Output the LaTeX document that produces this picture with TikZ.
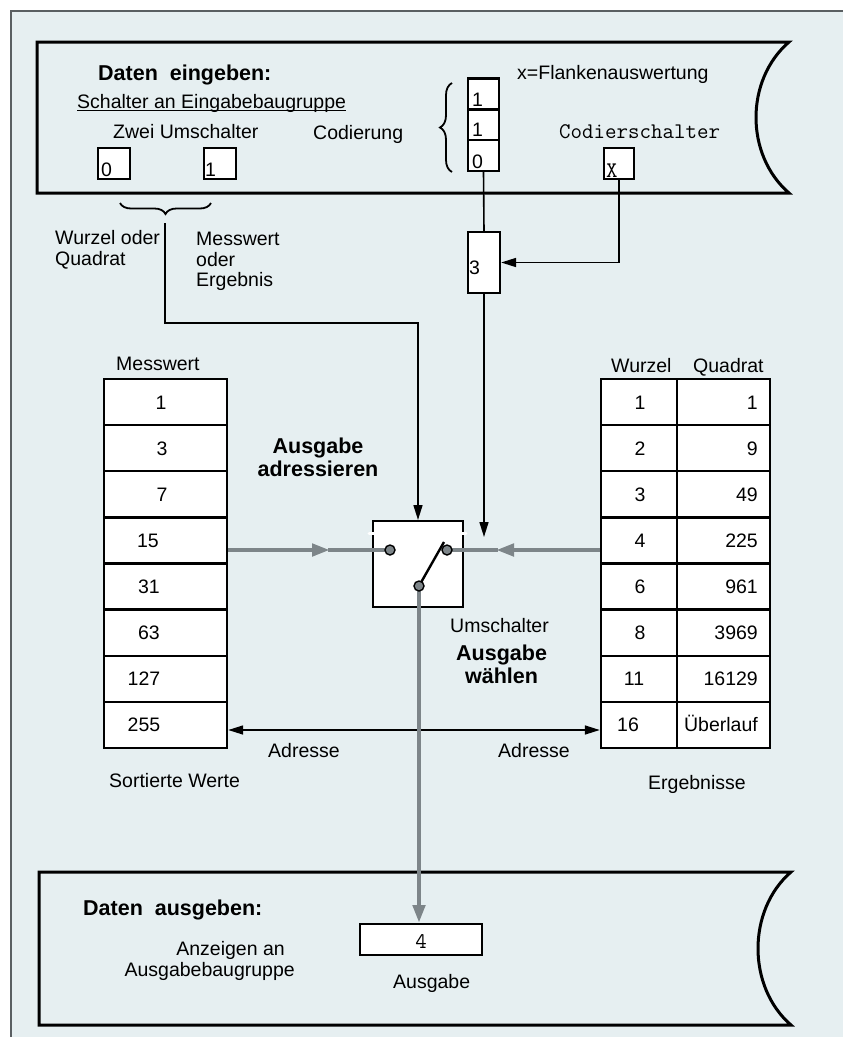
\documentclass[tikz,border=0pt]{standalone}
\usepackage{fontspec}
\setmainfont{Liberation Sans}
\usetikzlibrary{arrows.meta,decorations.pathreplacing}
\definecolor{bgc}{RGB}{230,239,241}
\definecolor{gc}{RGB}{125,133,137}
\definecolor{framec}{RGB}{90,95,98}
\newcommand\fn{\fontsize{19.5}{23}\selectfont}
\newcommand\fbd{\fontsize{21.5}{25}\selectfont\bfseries}
\newcommand\fm{\fontsize{22.3}{26}\selectfont\ttfamily}
\begin{document}
\begin{tikzpicture}[x=1pt,y=-1pt,
  txt/.style={inner sep=0pt, font=\fn, anchor=base west},
  btxt/.style={inner sep=0pt, font=\fbd, anchor=base west},
  mtxt/.style={inner sep=0pt, font=\fm, anchor=base west},
  bx/.style={draw=black, line width=2.2pt, fill=white, inner sep=0pt},
  cellbox/.style={draw=black, line width=2.4pt, fill=white, inner sep=0pt, minimum height=46.1pt},
  arr/.style={draw=black, line width=1.6pt, -{Triangle[length=15pt,width=9pt]}},
  cline/.style={draw=black, line width=1.6pt},
  gline/.style={draw=gc, line width=4.5pt},
  garr/.style={draw=gc, line width=4.5pt, -{Triangle[length=18pt,width=12pt]}},
  contact/.style={circle, draw=black, line width=1.4pt, fill=gc, minimum size=10pt, inner sep=0pt},
  bigbox/.style={draw=black, line width=3pt, line join=miter},
  brc/.style={draw=black, line width=1.8pt, decorate}
]
\useasboundingbox (0,0) rectangle (843,1037);
\fill[bgc] (11,11) rectangle (843,1037);
\draw[framec, line width=1.5pt] (11,1037) -- (11,11) -- (843,11);

% ---------- top box ----------
\draw[bigbox] (37,42) -- (789,42) .. controls (745,80) and (745,155) .. (789,193) -- (37,193) -- cycle;
\node[btxt] (tDaten) at (98,80) {Daten\ \ eingeben:};
\node[txt] (tSchalter) at (77,108) {Schalter an Eingabebaugruppe};
\draw[black, line width=1pt] ([yshift=-2.5pt]tSchalter.base west) -- ([yshift=-2.5pt]tSchalter.base east);
\node[txt] (tFlanke) at (517,79) {x=Flankenauswertung};
\node[txt] (tZwei) at (113,138) {Zwei Umschalter};
\node[txt] (tCod) at (313,139) {Codierung};
\node[mtxt] (tCodS) at (559,138) {Codierschalter};

\node[bx, minimum width=32pt, minimum height=31pt] (b0) at (114,163.5) {};
\node[txt] at (101,176) {0};
\node[bx, minimum width=32pt, minimum height=31pt] (b1) at (220,163.5) {};
\node[txt] at (205,176) {1};

\node[bx, minimum width=31pt, minimum height=31pt] (s1) at (483.5,94) {};
\node[bx, minimum width=31pt, minimum height=30pt] (s2) at (483.5,125) {};
\node[bx, minimum width=31pt, minimum height=31pt] (s3) at (483.5,155.5) {};
\node[txt] at (472,106) {1};
\node[txt] at (472,136) {1};
\node[txt] at (472,168) {0};

\node[bx, minimum width=30pt, minimum height=31pt] (xb) at (619,163.5) {};
\node[mtxt] at (606,177) {X};

\draw[brc, decoration={brace, amplitude=12pt}] (452,172) -- (452,83);
\draw[brc, decoration={brace, amplitude=11pt}] (211,203) -- (120,203);

% ---------- labels below top box ----------
\node[txt] at (55,244) {Wurzel oder};
\node[txt] at (55,265) {Quadrat};
\node[txt] at (196,245) {Messwert};
\node[txt] at (196,266) {oder};
\node[txt] at (196,286) {Ergebnis};

% ---------- box 3 ----------
\node[bx, minimum width=32pt, minimum height=61pt] (c3) at (484,262.5) {};
\node[txt] at (469,274) {3};

% ---------- switch ----------
\node[bx, line width=2pt, minimum width=90pt, minimum height=86pt] (sw) at (418,564) {};
\draw[white, line width=3pt, line cap=round] (369,533) -- (376,533);
\draw[white, line width=3pt, line cap=round] (460,533) -- (466,533);

\coordinate (bt) at (165,223);
\draw[arr] (bt) -- (165,323) -| (sw.north);
\draw[cline] (s3.south) -- (c3.north);
\draw[arr] (xb.south) |- (c3.east);
\coordinate (tipR) at (484,537);
\draw[arr] (c3.south) -- (tipR);

% ---------- tables ----------
\node[txt] at (116,370) {Messwert};
\node[txt] at (611,372) {Wurzel};
\node[txt] at (693,372) {Quadrat};
\foreach \v/\cx [count=\i] in {1/161,3/162,7/162,15/148,31/149,63/149,127/144,255/144}{
  \node[cellbox, minimum width=123pt] (L\i) at (165.5,{379+46.125*(\i-0.5)}) {};
  \node[inner sep=0pt, font=\fn, anchor=base] at (\cx,{379+46.125*(\i-0.5)+7}) {\v};
}
\foreach \w/\wx/\q [count=\i] in {1/640/1,2/640/9,3/640/49,4/640/225,6/640/961,8/640/3969,11/634/16129,16/628/{Überlauf}}{
  \node[cellbox, minimum width=76pt] (W\i) at (639,{379+46.125*(\i-0.5)}) {};
  \node[cellbox, minimum width=93pt] (Q\i) at (723.5,{379+46.125*(\i-0.5)}) {};
  \node[inner sep=0pt, font=\fn, anchor=base] at (\wx,{379+46.125*(\i-0.5)+7}) {\w};
  \node[inner sep=0pt, font=\fn, anchor=base east] at (758,{379+46.125*(\i-0.5)+7}) {\q};
}

% ---------- middle labels ----------
\node[inner sep=0pt, font=\fbd, anchor=base] at (318,453) {Ausgabe};
\node[inner sep=0pt, font=\fbd, anchor=base] at (318,476) {adressieren};
\node[txt] at (450,632) {Umschalter};
\node[btxt] (aw) at (456,660) {Ausgabe};
\node[inner sep=0pt, font=\fbd, anchor=base] at (aw.base |- 0,683) {wählen};
\node[txt] at (268,757) {Adresse};
\node[txt] at (498,757) {Adresse};
\node[txt] at (109,787) {Sortierte Werte};
\node[txt] at (648,789) {Ergebnisse};

% ---------- address arrows ----------
\coordinate (adr) at (415,730);
\draw[arr] (adr) -- (L8.east |- adr);
\draw[arr] (adr) -- (W8.west |- adr);

% ---------- bottom box ----------
\draw[bigbox] (39,872) -- (791,872) .. controls (747,910) and (747,987) .. (791,1025) -- (39,1025) -- cycle;
\node[btxt] at (83,915) {Daten\ \ ausgeben:};
\node[inner sep=0pt, font=\fn, anchor=base east] at (285,955) {Anzeigen an};
\node[inner sep=0pt, font=\fn, anchor=base east] at (295,976) {Ausgabebaugruppe};
\node[txt] at (393,988) {Ausgabe};
\node[bx, line width=2pt, minimum width=122pt, minimum height=31pt] (ob) at (421,939.5) {};
\node[inner sep=0pt, font=\fm, anchor=base] at (421,948) {4};

% ---------- grey signal lines ----------
\coordinate (pL) at (390,550);
\coordinate (pR) at (447,550);
\coordinate (pP) at (419,586);
\draw[garr] (L4.east |- pL) -- (330,550);
\draw[gline] (328,550) -- (pL);
\draw[garr] (W4.west |- pR) -- (496,550);
\draw[gline] (498,550) -- (pR);
\draw[garr] (pP) -- (pP |- ob.north);
\draw[black, line width=2.4pt] (pP) -- (444,542);
\node[contact] (cL) at (pL) {};
\node[contact] (cR) at (pR) {};
\node[contact] (cP) at (pP) {};
\end{tikzpicture}
\end{document}
